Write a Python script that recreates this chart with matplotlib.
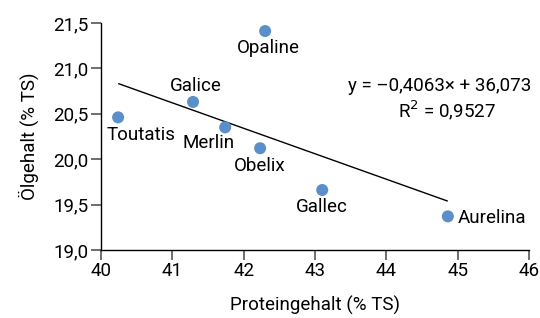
import matplotlib.pyplot as plt

# Sorten: Proteingehalt vs. Ölgehalt (% TS)
sorten = ["Opaline", "Galice", "Toutatis", "Merlin", "Obelix", "Gallec", "Aurelina"]
protein = [42.30, 41.29, 40.24, 41.74, 42.23, 43.10, 44.86]
oel = [21.41, 20.63, 20.46, 20.35, 20.12, 19.66, 19.37]

# Trendlinie (Endpunkte)
trend_x = [40.25, 44.85]
trend_y = [20.83, 19.54]

x_ticks = [40, 41, 42, 43, 44, 45, 46]
y_ticks = [19.0, 19.5, 20.0, 20.5, 21.0, 21.5]

# label offsets in points (dx, dy, ha, va)
label_pos = {
    "Opaline": (2, -6, "center", "top"),
    "Galice": (2, 5, "center", "bottom"),
    "Toutatis": (-8, -6, "left", "top"),
    "Merlin": (-12, -5, "center", "top"),
    "Obelix": (0, -6, "center", "top"),
    "Gallec": (0, -6, "center", "top"),
    "Aurelina": (7, -1, "left", "center"),
}

plt.rcParams['font.family'] = ['Roboto', 'DejaVu Sans']
plt.rcParams['font.size'] = 13.5

fig = plt.figure(figsize=(5.4, 3.18), dpi=100)
ax = fig.add_axes([0.187, 0.214, 0.793, 0.714])

ax.plot(trend_x, trend_y, color="black", lw=1.0, zorder=2)
ax.scatter(protein, oel, s=75, color="#5b8fc9", edgecolors="none", zorder=3)

for name, x, y in zip(sorten, protein, oel):
    dx, dy, ha, va = label_pos[name]
    ax.annotate(name, (x, y), xytext=(dx, dy), textcoords="offset points",
                ha=ha, va=va)

ax.text(44.74, 20.80, "y = \u20130,4063\u00d7 + 36,073", ha="center", va="center")
ax.text(44.85, 20.54, "R$^{2}$ = 0,9527", ha="center", va="center")

ax.set_xlim(40, 46)
ax.set_ylim(19, 21.5)
ax.set_xticks(x_ticks)
ax.set_yticks(y_ticks)
ax.set_yticklabels([f"{v:.1f}".replace(".", ",") for v in y_ticks])
ax.set_xticklabels([str(v) for v in x_ticks])
ax.tick_params(direction="out", length=7, width=1.2, color="#555555", pad=2)
for s in ["top", "right"]:
    ax.spines[s].set_visible(False)
for s in ["left", "bottom"]:
    ax.spines[s].set_linewidth(1.0)

ax.set_xlabel("Proteingehalt (% TS)", labelpad=11)
ax.set_ylabel("Ölgehalt (% TS)", labelpad=10)

fig.savefig("out.png", dpi=100)
